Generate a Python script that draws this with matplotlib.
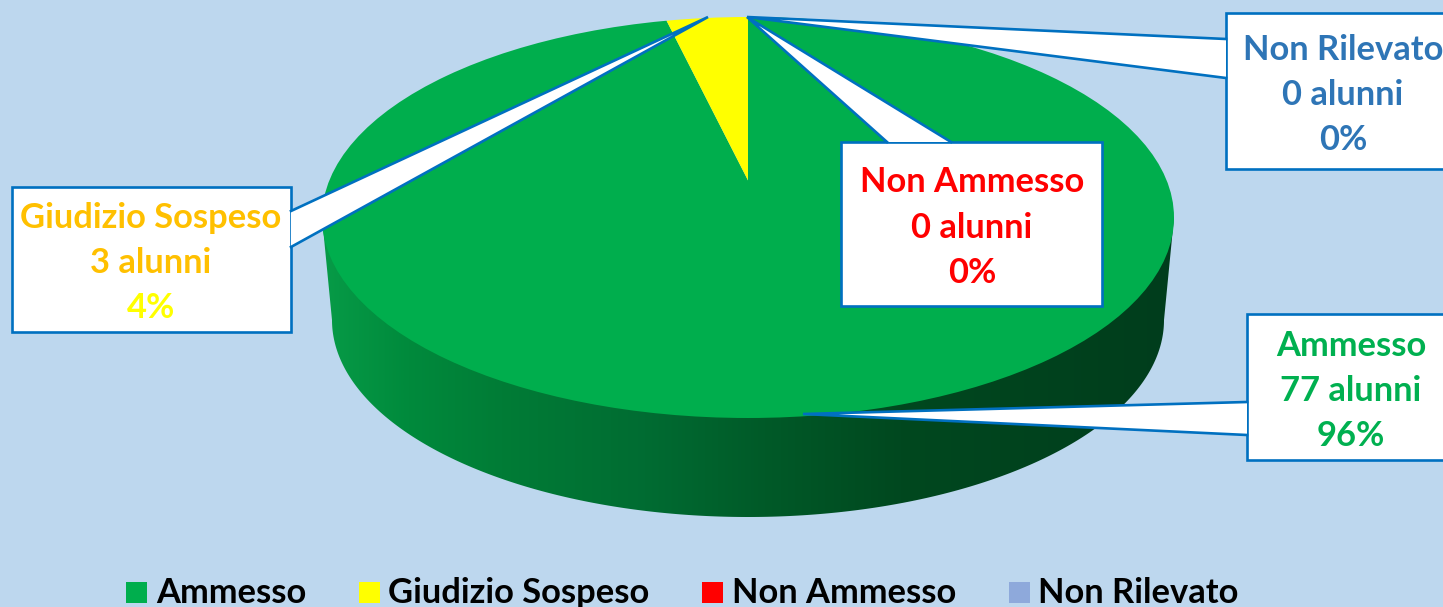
import numpy as np
import matplotlib
matplotlib.use("Agg")
import matplotlib.pyplot as plt
from matplotlib.path import Path
from matplotlib.patches import PathPatch, Rectangle, Polygon, Ellipse
from matplotlib.colors import LinearSegmentedColormap

categories = ["Ammesso", "Giudizio Sospeso", "Non Ammesso", "Non Rilevato"]
alunni = [77, 3, 0, 0]
percent_labels = ["96%", "4%", "0%", "0%"]
slice_colors = ["#00AE4D", "#FFFF00", "#FF0000", "#8EA9DB"]
name_colors = ["#00B050", "#FFC000", "#FF0000", "#2E75B6"]
pct_colors = ["#00B050", "#FFFF00", "#FF0000", "#2E75B6"]
line_color = "#0070C0"
BG = "#BDD7EE"

W, H = 1443, 607
plt.rcParams["font.family"] = ["Lato", "DejaVu Sans"]
plt.rcParams["font.weight"] = "bold"
fig = plt.figure(figsize=(W / 100, H / 100), dpi=100, facecolor=BG)

# pixel overlay for callouts and legend
ov = fig.add_axes([0, 0, 1, 1], zorder=3)
ov.set_xlim(0, W)
ov.set_ylim(H, 0)
ov.axis("off")

# wall of the cylinder
base = fig.add_axes([0, 0, 1, 1], zorder=1)
cx, cy, rx, ry = 748, 217.5, 426, 200.5
bcy, brx, bry = 320, 416, 197
tb = np.linspace(0, np.pi, 300)
wall = np.vstack([
    [[cx + rx, cy]],
    np.column_stack([cx + brx * np.cos(tb), bcy + bry * np.sin(tb)]),
    [[cx - rx, cy]],
    [[cx + rx, cy]],
])
wall_path = Path(wall, closed=True)
cmap = LinearSegmentedColormap.from_list("wall", [
    (0.0, "#079B47"), (0.10, "#008A3C"), (0.21, "#007C36"), (0.38, "#006C32"),
    (0.52, "#005A28"), (0.68, "#00481F"), (1.0, "#003D1C")])
grad = np.linspace(0, 1, 512).reshape(1, -1)
im = base.imshow(grad, extent=[cx - rx, cx + rx, 530, 200], cmap=cmap, aspect="auto", zorder=1)
base.set_xlim(0, W)
base.set_ylim(H, 0)
base.axis("off")
clip = PathPatch(wall_path, transform=base.transData, fc="none", ec="none")
base.add_patch(clip)
im.set_clip_path(clip)

# top face: pie in its own axes, unit ellipse spans the top surface
ax = fig.add_axes([(cx - rx) / W, 1 - (cy + ry) / H, 2 * rx / W, 2 * ry / H], zorder=2)
apex = 0.185
wedges, _ = ax.pie(alunni, colors=slice_colors, startangle=90, counterclock=False,
                   radius=1.35, center=(0, apex), frame=True)
ax.set_aspect("auto")
ax.set_xlim(-1, 1)
ax.set_ylim(-1, 1)
ax.axis("off")
ell = Ellipse((0, 0), 2, 2, transform=ax.transData, fc="none", ec="none")
ax.add_patch(ell)
for w in wedges:
    w.set_clip_on(True)
    w.set_clip_path(ell)
    w.set_linewidth(0)

# callouts: box (x0, y0, x1, y1), leader tip, leader roots on the box edge
callouts = {
    "Ammesso": ((1247, 314, 1460, 460), (803, 414), (1247, 402), (1247, 435)),
    "Giudizio Sospeso": ((12, 187, 291, 332), (708, 17), (291, 211), (291, 247)),
    "Non Ammesso": ((841, 142, 1102, 306), (747, 17), (887, 142), (951, 142)),
    "Non Rilevato": ((1226, 13, 1460, 169), (747, 17), (1226, 39), (1226, 78)),
}
text_ys = {"Ammesso": (346, 391, 436), "Giudizio Sospeso": (218, 263, 308),
           "Non Ammesso": (182, 228, 273), "Non Rilevato": (50, 95, 140)}
text_x = {"Ammesso": 1351, "Giudizio Sospeso": 151, "Non Ammesso": 972, "Non Rilevato": 1343}
order = ["Ammesso", "Non Rilevato", "Non Ammesso", "Giudizio Sospeso"]
FS = 24.8
LW = 1.9
for name in order:
    i = categories.index(name)
    (x0, y0, x1, y1), tip, r1, r2 = callouts[name]
    ov.add_patch(Rectangle((x0, y0), x1 - x0, y1 - y0, fc="white", ec=line_color, lw=LW,
                           clip_on=True, zorder=2))
    ov.add_patch(Polygon([tip, r1, r2], closed=True, fc="white", ec="none", zorder=3))
    ov.plot([r1[0], tip[0], r2[0]], [r1[1], tip[1], r2[1]], color=line_color, lw=LW,
            solid_joinstyle="miter", zorder=4)
    ys = text_ys[name]
    tx = text_x[name]
    ov.text(tx, ys[0], name, color=name_colors[i], fontsize=FS, ha="center", va="center", zorder=5)
    ov.text(tx, ys[1], f"{alunni[i]} alunni", color=name_colors[i], fontsize=FS, ha="center", va="center", zorder=5)
    ov.text(tx, ys[2], percent_labels[i], color=pct_colors[i], fontsize=FS, ha="center", va="center", zorder=5)

# legend
leg_sw = [126, 359, 702, 1009]
leg_tx = [156, 388, 732, 1038]
for i, name in enumerate(categories):
    ov.add_patch(Rectangle((leg_sw[i], 582), 21, 21, fc=slice_colors[i], ec="none", zorder=5))
    ov.text(leg_tx[i], 593, name, color="black", fontsize=FS, ha="left", va="center", zorder=5)

fig.savefig("out.png", dpi=100, facecolor=BG)
